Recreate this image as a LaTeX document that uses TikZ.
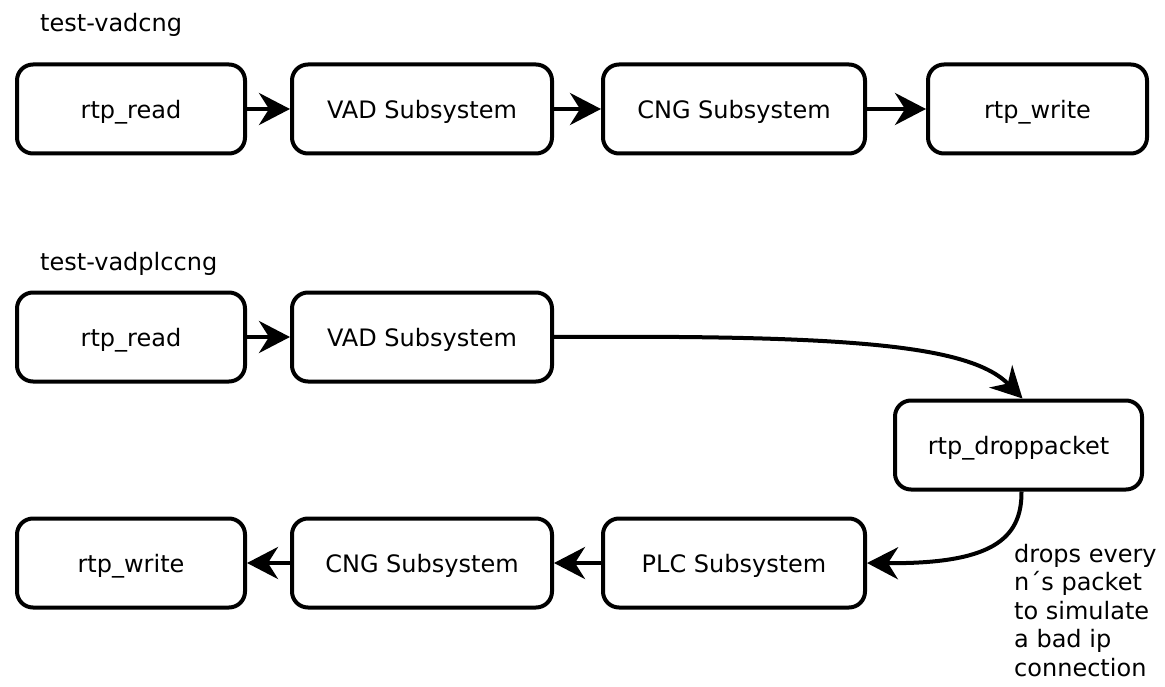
\documentclass[tikz,border=0pt]{standalone}
\usepackage{fontspec}
\setmainfont{DejaVu Sans}
\usetikzlibrary{arrows.meta}
\begin{document}
\begin{tikzpicture}[x=1pt,y=-1pt,
  box/.style={draw,line width=4pt,rounded corners=16pt,minimum height=89pt,minimum width=#1,inner sep=0pt,text depth=0pt,font=\fontsize{24}{28}\selectfont},
  conn/.style={line width=4pt,-{Stealth[length=31pt,width=32pt,inset=10pt]}},
  lbl/.style={font=\fontsize{24}{28}\selectfont,inner sep=0pt,anchor=west}]
\useasboundingbox (0,0) rectangle (1165,687);
\node[lbl] (t1) at (40,25) {test-vadcng};
\node[lbl] (t2) at (40,264) {test-vadplccng};
% row 1
\node[box=228pt] (r1) at (131,109) {rtp\_read};
\node[box=260pt] (v1) at (422,109) {VAD Subsystem};
\node[box=262pt] (c1) at (734,109) {CNG Subsystem};
\node[box=219pt] (w1) at (1037.5,109) {rtp\_write};
\draw[conn] (r1) -- (v1);
\draw[conn] (v1) -- (c1);
\draw[conn] (c1) -- (w1);
% row 2
\node[box=228pt] (r2) at (131,337) {rtp\_read};
\node[box=260pt] (v2) at (422,337) {VAD Subsystem};
\node[box=247pt] (d2) at (1018.5,445) {rtp\_droppacket};
% row 3
\node[box=228pt] (w3) at (131,563) {rtp\_write};
\node[box=260pt] (c3) at (422,563) {CNG Subsystem};
\node[box=262pt] (p3) at (734,563) {PLC Subsystem};
\draw[conn] (r2) -- (v2);
\draw[conn] (v2.east) .. controls (850,335) and (970,345) .. ([xshift=4pt]d2.north);
\draw[conn] ([xshift=3pt]d2.south) .. controls (1022,540) and (990,564) .. (p3.east);
\draw[conn] (p3) -- (c3);
\draw[conn] (c3) -- (w3);
\node[font=\fontsize{24}{28.5}\selectfont,inner sep=0pt,anchor=north west,align=left] (note) at (1014,544)
  {drops every\\n´s packet\\to simulate\\a bad ip\\connection};
\end{tikzpicture}
\end{document}
